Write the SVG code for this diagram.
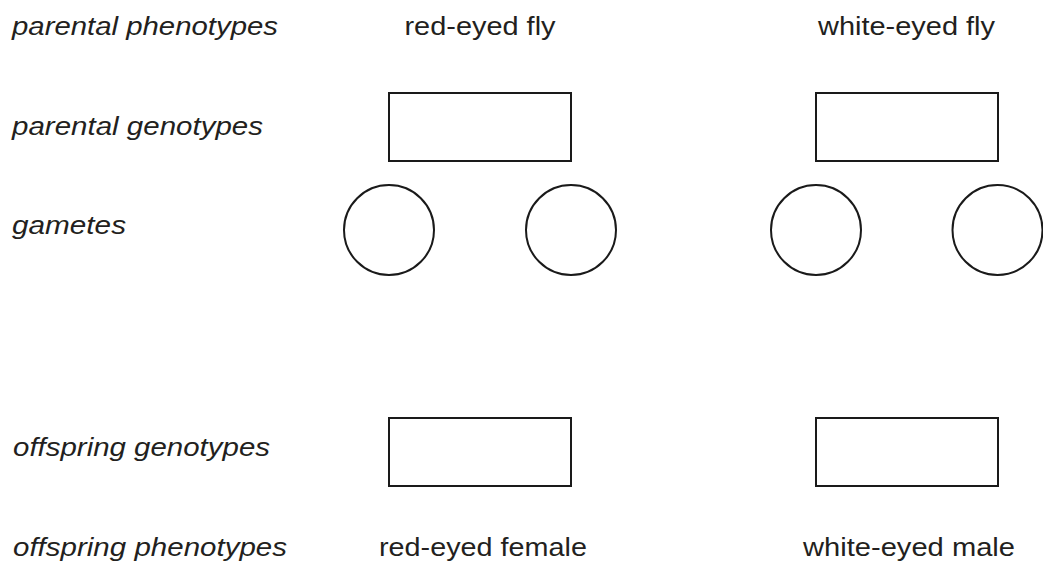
<svg xmlns="http://www.w3.org/2000/svg" width="1043" height="566" viewBox="0 0 1043 566">
<style>
text{font-family:"Liberation Sans",Arial,sans-serif;font-size:26.5px;fill:#231f20}
.lab{font-style:italic}
.mid{text-anchor:middle}
.box{fill:#fff;stroke:#1a1a1a;stroke-width:2}
</style>
<rect width="1043" height="566" fill="#fff"/>
<g id="labels">
<text class="lab" x="12" y="35" textLength="266" lengthAdjust="spacingAndGlyphs">parental phenotypes</text>
<text class="lab" x="12" y="135" textLength="251" lengthAdjust="spacingAndGlyphs">parental genotypes</text>
<text class="lab" x="12" y="234" textLength="114" lengthAdjust="spacingAndGlyphs">gametes</text>
<text class="lab" x="13" y="456" textLength="257" lengthAdjust="spacingAndGlyphs">offspring genotypes</text>
<text class="lab" x="13" y="556" textLength="274" lengthAdjust="spacingAndGlyphs">offspring phenotypes</text>
</g>
<g id="connectors"></g>
<g id="red-eyed-fly">
<text class="mid" x="480" y="35" textLength="151" lengthAdjust="spacingAndGlyphs">red-eyed fly</text>
<rect class="box" x="389" y="93" width="182" height="68"/>
</g>
<g id="white-eyed-fly">
<text class="mid" x="906.5" y="35" textLength="177" lengthAdjust="spacingAndGlyphs">white-eyed fly</text>
<rect class="box" x="816" y="93" width="182" height="68"/>
</g>
<g id="gamete-1"><circle class="box" cx="389" cy="230" r="45"/></g>
<g id="gamete-2"><circle class="box" cx="571" cy="230" r="45"/></g>
<g id="gamete-3"><circle class="box" cx="816" cy="230" r="45"/></g>
<g id="gamete-4"><circle class="box" cx="997.5" cy="230" r="45"/></g>
<g id="red-eyed-female">
<rect class="box" x="389" y="418" width="182" height="68"/>
<text class="mid" x="483" y="556" textLength="208" lengthAdjust="spacingAndGlyphs">red-eyed female</text>
</g>
<g id="white-eyed-male">
<rect class="box" x="816" y="418" width="182" height="68"/>
<text class="mid" x="909" y="556" textLength="212" lengthAdjust="spacingAndGlyphs">white-eyed male</text>
</g>
</svg>
